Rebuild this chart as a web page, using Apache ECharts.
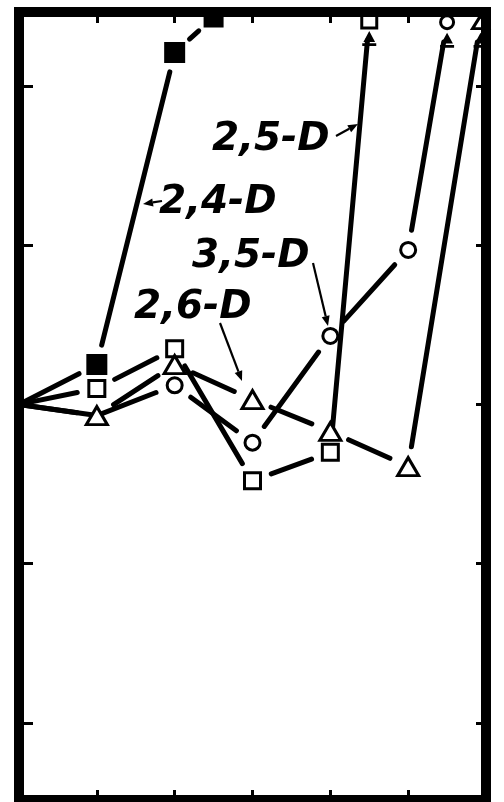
<!DOCTYPE html>
<html>
<head>
<meta charset="utf-8">
<script src="https://cdn.jsdelivr.net/npm/echarts@6/dist/echarts.min.js"></script>
<style>
html,body{margin:0;padding:0;background:#fff;}
#chart{width:504px;height:802px;}
</style>
</head>
<body>
<div id="chart"></div>
<script>
// ---- data ----
const xTicks = [1, 2, 3, 4, 5];
const yTicks = [0, 50, 100, 150, 200];

const x24 = [0, 1, 2, 2.5];
const y24 = [100, 112.5, 210.5, 221.5];

const x25 = [0, 1, 2, 3, 4, 4.5];
const y25 = [100, 105, 117.5, 76, 85, 220.5];

const x35 = [0, 1, 2, 3, 4, 5, 5.5];
const y35 = [100, 96.5, 106, 88, 121.5, 148.5, 220];

const x26 = [0, 1, 2, 3, 4, 5, 5.93];
const y26 = [100, 96.5, 112.5, 101.5, 91.5, 80.5, 220];

// which points carry a marker (origin and the 3,5-D point hidden under the triangle do not)
const mark24 = [0, 1, 1, 1];
const mark25 = [0, 1, 1, 1, 1, 1];
const mark35 = [0, 0, 1, 1, 1, 1, 1];
const mark26 = [0, 1, 1, 1, 1, 1, 1];

const OFF_SCALE = 219; // values at/above this are plotted at the top edge

const chart = echarts.init(document.getElementById('chart'), null, {renderer: 'canvas'});

function pts(xs, ys) { return xs.map((v, i) => [v, ys[i]]); }

const defs = [
  {name: '2,4-D', x: x24, y: y24, m: mark24, symbol: 'rect', size: 18, topSize: 17, fill: '#000', arrow: false},
  {name: '2,5-D', x: x25, y: y25, m: mark25, symbol: 'rect', size: 16, topSize: 15, fill: '#fff', arrow: true},
  {name: '3,5-D', x: x35, y: y35, m: mark35, symbol: 'circle', size: 15, topSize: 13, fill: '#fff', arrow: true},
  {name: '2,6-D', x: x26, y: y26, m: mark26, symbol: 'triangle', size: [21, 18], topSize: [16, 13], fill: '#fff', arrow: true}
];

const arrowPath = 'path://M5,0 L10,8 L0,8 Z M-1,9 L11,9 L11,11 L-1,11 Z';
const GAP = 20; // drafting-style gap between a line and a marker, px

// segments drawn through the axes' scales, stopping short of the markers
function segRender(params, api) {
  const a = api.coord([api.value(0), api.value(1)]);
  const b = api.coord([api.value(2), api.value(3)]);
  const dx = b[0] - a[0], dy = b[1] - a[1];
  const len = Math.sqrt(dx * dx + dy * dy) || 1;
  const ux = dx / len, uy = dy / len;
  const g0 = api.value(4) ? GAP : 0, g1 = api.value(5) ? GAP : 0;
  if (len <= g0 + g1 + 2) return null;
  return {
    type: 'line',
    shape: {x1: a[0] + ux * g0, y1: a[1] + uy * g0, x2: b[0] - ux * g1, y2: b[1] - uy * g1},
    style: {stroke: '#000', lineWidth: 5, lineCap: 'round'}
  };
}

const series = [];
defs.forEach(d => {
  const all = pts(d.x, d.y);
  const segs = [];
  for (let i = 0; i < all.length - 1; i++) {
    segs.push([all[i][0], all[i][1], all[i + 1][0], all[i + 1][1], d.m[i], d.m[i + 1]]);
  }
  series.push({
    name: d.name, type: 'custom', data: segs, renderItem: segRender,
    encode: {x: [0, 2], y: [1, 3]}, z: 2, animation: false, silent: true, clip: false
  });
  const marked = all.filter((p, i) => d.m[i]);
  series.push({
    name: d.name + ' marks', type: 'scatter',
    data: marked.map(p => ({value: p, symbolSize: p[1] >= OFF_SCALE ? d.topSize : d.size})),
    symbol: d.symbol, symbolSize: d.size,
    itemStyle: {color: d.fill, borderColor: '#000', borderWidth: 3, opacity: 1},
    z: 6, animation: false, silent: true
  });
  if (d.arrow) {
    series.push({
      name: d.name + ' off-scale', type: 'scatter',
      data: all.filter(p => p[1] >= OFF_SCALE),
      symbol: arrowPath, symbolSize: [14, 15], symbolOffset: [0, 18],
      itemStyle: {color: '#000', opacity: 1}, z: 7, animation: false, silent: true
    });
  }
});

// annotation arrows (thin leader lines with filled heads)
function leader(x1, y1, x2, y2) {
  const ang = Math.atan2(y2 - y1, x2 - x1);
  const L = 10, W = 4;
  const bx = x2 - L * Math.cos(ang), by = y2 - L * Math.sin(ang);
  const px = -Math.sin(ang) * W, py = Math.cos(ang) * W;
  return [
    {type: 'line', shape: {x1: x1, y1: y1, x2: bx, y2: by}, style: {stroke: '#000', lineWidth: 2.2}, z: 20},
    {type: 'polygon', shape: {points: [[x2, y2], [bx + px, by + py], [bx - px, by - py]]}, style: {fill: '#000'}, z: 20}
  ];
}
const labelFont = 'italic bold 39px "DejaVu Sans"';
function label(txt, x, y) {
  return {type: 'text', x: x, y: y, z: 20,
    style: {text: txt, font: labelFont, fill: '#000', textAlign: 'left', textVerticalAlign: 'middle', verticalAlign: 'middle'}};
}

const graphics = [
  label('2,5-D', 212, 140),
  label('2,4-D', 159, 203),
  label('3,5-D', 192, 257),
  label('2,6-D', 134, 308)
].concat(
  leader(336, 136, 358, 124),
  leader(162, 201, 143, 204),
  leader(313, 263, 328, 326),
  leader(220, 323, 242, 381)
);

function xAx(pos, len) {
  return {
    type: 'value', min: 0, max: 6, position: pos, z: 10,
    axisLine: {show: true, onZero: false, lineStyle: {color: '#000', width: 10, cap: 'square'}},
    axisTick: {show: true, inside: true, length: len, customValues: xTicks, lineStyle: {color: '#000', width: 3}},
    axisLabel: {show: false}, splitLine: {show: false}
  };
}
function yAx(pos, len) {
  return {
    type: 'value', min: -24.2, max: 223.2, position: pos, z: 10,
    axisLine: {show: true, onZero: false, lineStyle: {color: '#000', width: 10, cap: 'square'}},
    axisTick: {show: true, inside: true, length: len, customValues: yTicks, lineStyle: {color: '#000', width: 3}},
    axisLabel: {show: false}, splitLine: {show: false}
  };
}

chart.setOption({
  animation: false,
  backgroundColor: '#fff',
  grid: {left: 19, right: 18, top: 12, bottom: 2, containLabel: false},
  xAxis: [xAx('bottom', 10), xAx('top', 11)],
  yAxis: [yAx('left', 14), yAx('right', 10)],
  series: series,
  graphic: graphics
});
</script>
</body>
</html>
